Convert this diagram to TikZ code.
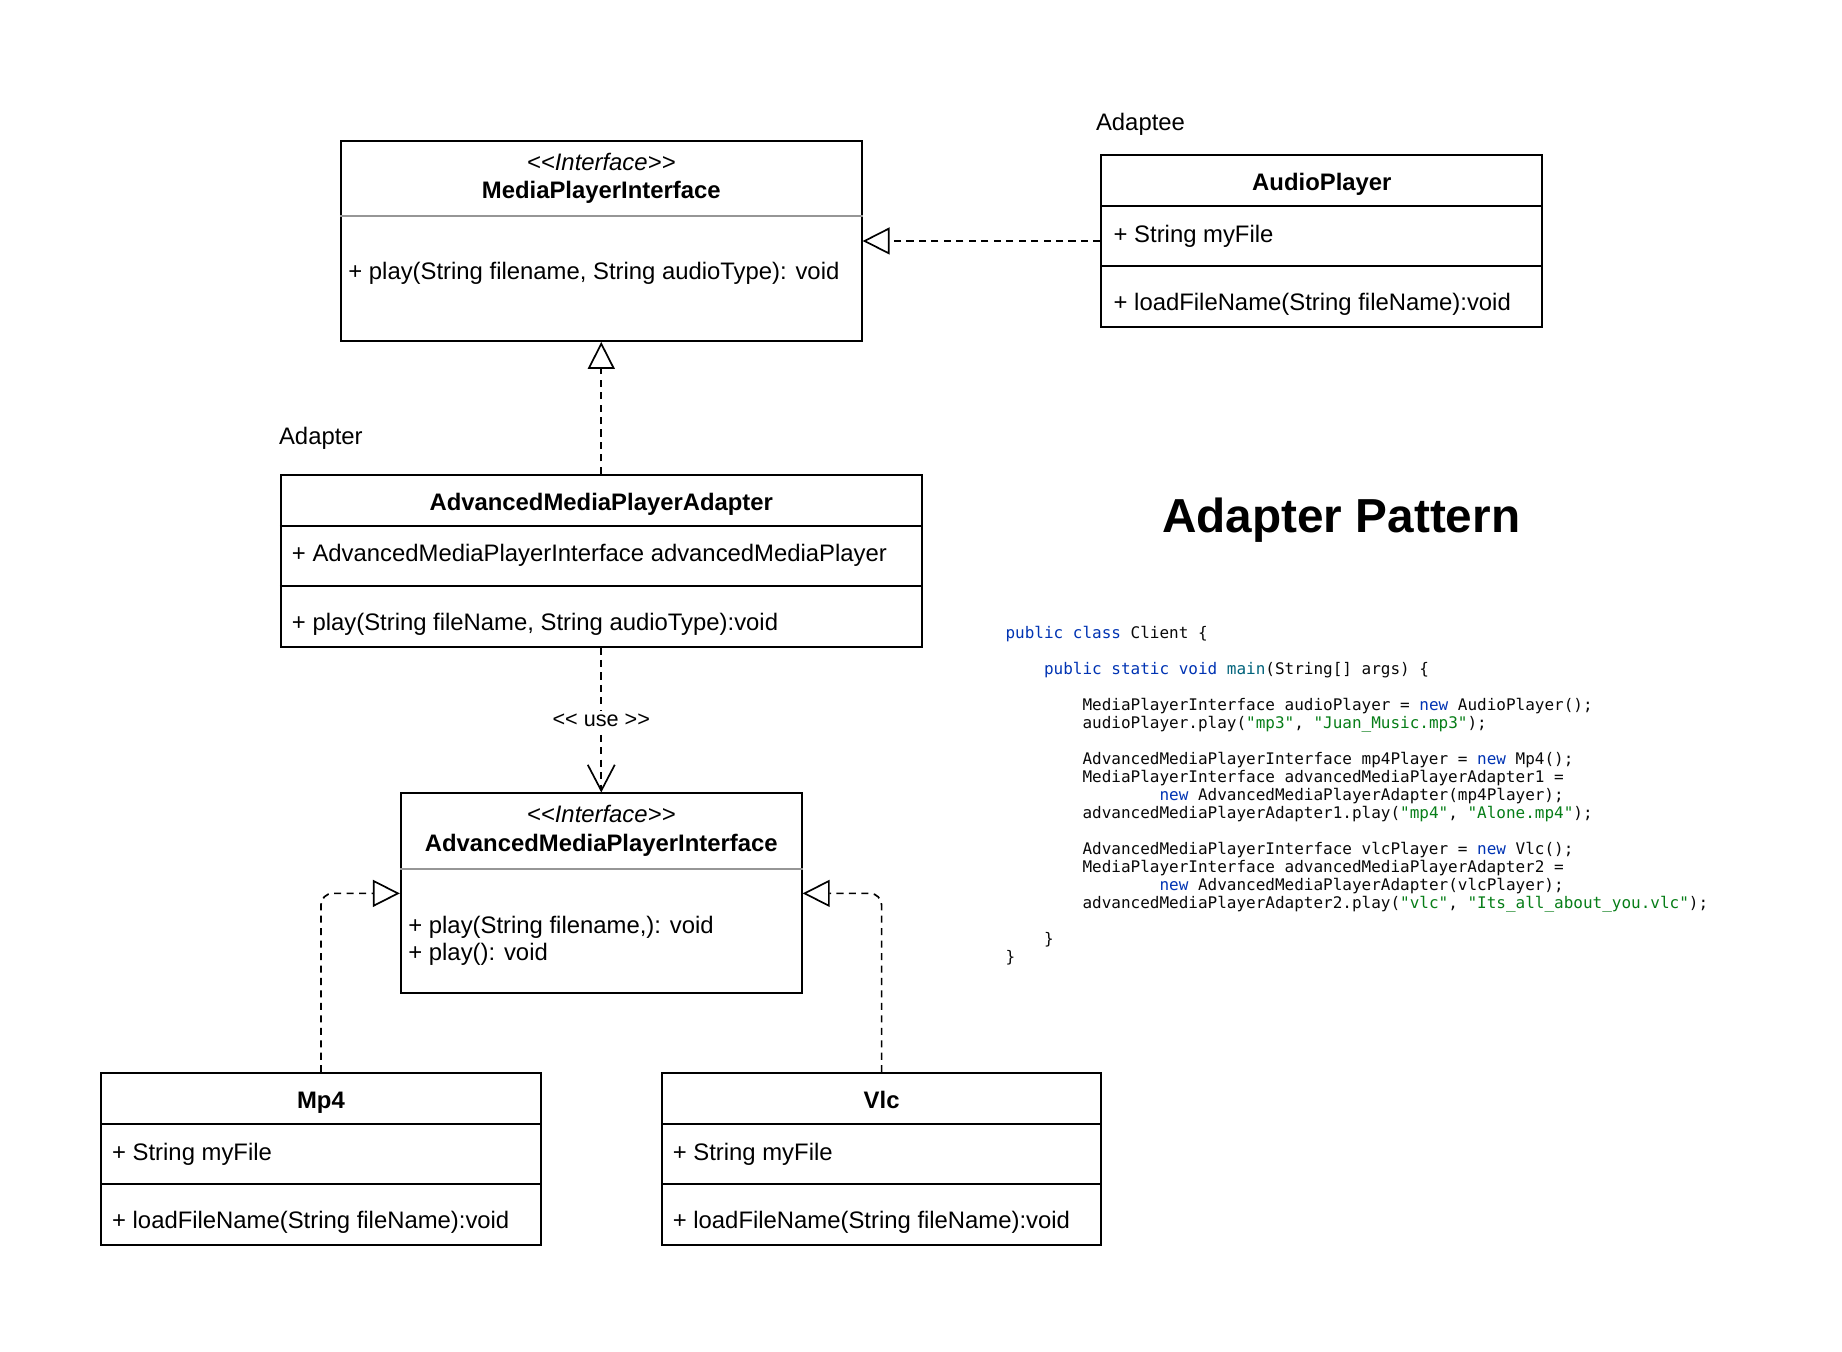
\documentclass[tikz,border=0pt]{standalone}
\usepackage{fontspec}
\setmainfont{Liberation Sans}
\newfontfamily\codefont{DejaVu Sans Mono}
\usetikzlibrary{arrows.meta,calc}
\definecolor{kw}{HTML}{0033B3}
\definecolor{fn}{HTML}{00627A}
\definecolor{str}{HTML}{067D17}
\definecolor{codetext}{HTML}{080808}
\definecolor{sepgray}{RGB}{150,150,150}
\newcommand{\ii}{\hphantom{0000}}
\tikzset{
  classbox/.style={draw=black, line width=0.85pt, fill=white, inner sep=0pt},
  sepline/.style={line width=0.85pt, draw=black},
  graysep/.style={line width=0.85pt, draw=sepgray},
  lbl/.style={inner sep=0pt, font=\fontsize{10.15pt}{12pt}\selectfont},
  boldlbl/.style={lbl, font=\fontsize{10.15pt}{12pt}\selectfont\bfseries},
  itlbl/.style={lbl, font=\fontsize{10.15pt}{12pt}\selectfont\itshape},
  edgelbl/.style={inner sep=1pt, fill=white, font=\fontsize{9.2pt}{11pt}\selectfont},
  codeline/.style={inner sep=0pt, anchor=base west, text=codetext, font=\codefont\fontsize{6.8pt}{7.65pt}\selectfont},
  conn/.style={line width=0.72pt, dash pattern=on 3pt off 2.3pt},
  realize/.style={conn, -{Triangle[open, length=11.5pt, width=11.5pt]}},
  usearrow/.style={conn, -{Straight Barb[length=11pt, width=11.5pt]}},
}
\begin{document}
\begin{tikzpicture}[x=0.5pt, y=-0.5pt]
\useasboundingbox (0,0) rectangle (1567,1150);

% ---------- MediaPlayerInterface ----------
\node[classbox, minimum width=221.5pt, minimum height=85pt] (mpi) at (511.5,205) {};
\draw[graysep] ($(mpi.north west)+(0,65)$) -- ($(mpi.north east)+(0,65)$);
\node[itlbl, anchor=base] (mpis) at (511.5,145) {<\kern0pt<Interface>\kern0pt>};
\node[boldlbl, anchor=base] (mpin) at (511.5,169) {MediaPlayerInterface};
\node[lbl, anchor=base west] (mpim) at (296,238) {+ play(String filename, String audioType): void};

% ---------- AudioPlayer ----------
\node[lbl, anchor=base west] (adaptee) at (932,111) {Adaptee};
\node[classbox, minimum width=187.5pt, minimum height=73pt] (ap) at (1124.5,205) {};
\draw[sepline] ($(ap.north west)+(0,44)$) -- ($(ap.north east)+(0,44)$);
\draw[sepline] ($(ap.north west)+(0,95)$) -- ($(ap.north east)+(0,95)$);
\node[boldlbl, anchor=base] (apn) at (1124.5,162) {AudioPlayer};
\node[lbl, anchor=base west] (apa) at (947,206) {+ String myFile};
\node[lbl, anchor=base west] (apm) at (947,264) {+ loadFileName(String fileName):void};

% ---------- AdvancedMediaPlayerAdapter ----------
\node[lbl, anchor=base west] (adapterlbl) at (237,378) {Adapter};
\node[classbox, minimum width=272.5pt, minimum height=73pt] (ad) at (511.5,477) {};
\draw[sepline] ($(ad.north west)+(0,44)$) -- ($(ad.north east)+(0,44)$);
\draw[sepline] ($(ad.north west)+(0,95)$) -- ($(ad.north east)+(0,95)$);
\node[boldlbl, anchor=base] (adn) at (511.5,434) {AdvancedMediaPlayerAdapter};
\node[lbl, anchor=base west] (ada) at (248,478) {+ AdvancedMediaPlayerInterface advancedMediaPlayer};
\node[lbl, anchor=base west] (adm) at (248,536) {+ play(String fileName, String audioType):void};

% ---------- AdvancedMediaPlayerInterface ----------
\node[classbox, minimum width=170.5pt, minimum height=85pt] (ampi) at (511.5,760) {};
\draw[graysep] ($(ampi.north west)+(0,65)$) -- ($(ampi.north east)+(0,65)$);
\node[itlbl, anchor=base] (ampis) at (511.5,700) {<\kern0pt<Interface>\kern0pt>};
\node[boldlbl, anchor=base] (ampin) at (511.5,724) {AdvancedMediaPlayerInterface};
\node[lbl, anchor=base west] (ampim1) at (347,794) {+ play(String filename,): void};
\node[lbl, anchor=base west] (ampim2) at (347,817) {+ play(): void};

% ---------- Mp4 ----------
\node[classbox, minimum width=187pt, minimum height=73pt] (mp4) at (273,986) {};
\draw[sepline] ($(mp4.north west)+(0,44)$) -- ($(mp4.north east)+(0,44)$);
\draw[sepline] ($(mp4.north west)+(0,95)$) -- ($(mp4.north east)+(0,95)$);
\node[boldlbl, anchor=base] (mp4n) at (273,943) {Mp4};
\node[lbl, anchor=base west] (mp4a) at (95,987) {+ String myFile};
\node[lbl, anchor=base west] (mp4m) at (95,1045) {+ loadFileName(String fileName):void};

% ---------- Vlc ----------
\node[classbox, minimum width=187pt, minimum height=73pt] (vlc) at (750,986) {};
\draw[sepline] ($(vlc.north west)+(0,44)$) -- ($(vlc.north east)+(0,44)$);
\draw[sepline] ($(vlc.north west)+(0,95)$) -- ($(vlc.north east)+(0,95)$);
\node[boldlbl, anchor=base] (vlcn) at (750,943) {Vlc};
\node[lbl, anchor=base west] (vlca) at (572,987) {+ String myFile};
\node[lbl, anchor=base west] (vlcm) at (572,1045) {+ loadFileName(String fileName):void};

% ---------- Connectors ----------
\draw[realize] (ap.west) -- (mpi.east);
\draw[realize] (ad.north) -- (mpi.south);
\draw[usearrow] (ad.south) -- node[edgelbl, pos=0.5] (uselbl) {<\kern0pt< use >\kern0pt>} (ampi.north);
\draw[realize, rounded corners=5pt] (mp4.north) |- (ampi.west);
\draw[realize, rounded corners=5pt] (vlc.north) |- (ampi.east);

% ---------- Title ----------
\node[inner sep=0pt, anchor=base, font=\fontsize{20.3pt}{24pt}\selectfont\bfseries] (title) at (1141,453) {Adapter Pattern};

% ---------- Code ----------
\node[codeline] (c1) at (855,543.0) {\textcolor{kw}{public class} Client \{};
\node[codeline] (c2) at (855,573.6) {\ii\textcolor{kw}{public static void} \textcolor{fn}{main}(String[] args) \{};
\node[codeline] (c3) at (855,604.2) {\ii\ii MediaPlayerInterface audioPlayer = \textcolor{kw}{new} AudioPlayer();};
\node[codeline] (c4) at (855,619.5) {\ii\ii audioPlayer.play(\textcolor{str}{"mp3"}, \textcolor{str}{"Juan\_Music.mp3"});};
\node[codeline] (c5) at (855,650.1) {\ii\ii AdvancedMediaPlayerInterface mp4Player = \textcolor{kw}{new} Mp4();};
\node[codeline] (c6) at (855,665.4) {\ii\ii MediaPlayerInterface advancedMediaPlayerAdapter1 =};
\node[codeline] (c7) at (855,680.7) {\ii\ii\ii\ii\textcolor{kw}{new} AdvancedMediaPlayerAdapter(mp4Player);};
\node[codeline] (c8) at (855,696.0) {\ii\ii advancedMediaPlayerAdapter1.play(\textcolor{str}{"mp4"}, \textcolor{str}{"Alone.mp4"});};
\node[codeline] (c9) at (855,726.6) {\ii\ii AdvancedMediaPlayerInterface vlcPlayer = \textcolor{kw}{new} Vlc();};
\node[codeline] (c10) at (855,741.9) {\ii\ii MediaPlayerInterface advancedMediaPlayerAdapter2 =};
\node[codeline] (c11) at (855,757.2) {\ii\ii\ii\ii\textcolor{kw}{new} AdvancedMediaPlayerAdapter(vlcPlayer);};
\node[codeline] (c12) at (855,772.5) {\ii\ii advancedMediaPlayerAdapter2.play(\textcolor{str}{"vlc"}, \textcolor{str}{"Its\_all\_about\_you.vlc"});};
\node[codeline] (c13) at (855,803.1) {\ii\}};
\node[codeline] (c14) at (855,818.4) {\}};
\end{tikzpicture}
\end{document}
